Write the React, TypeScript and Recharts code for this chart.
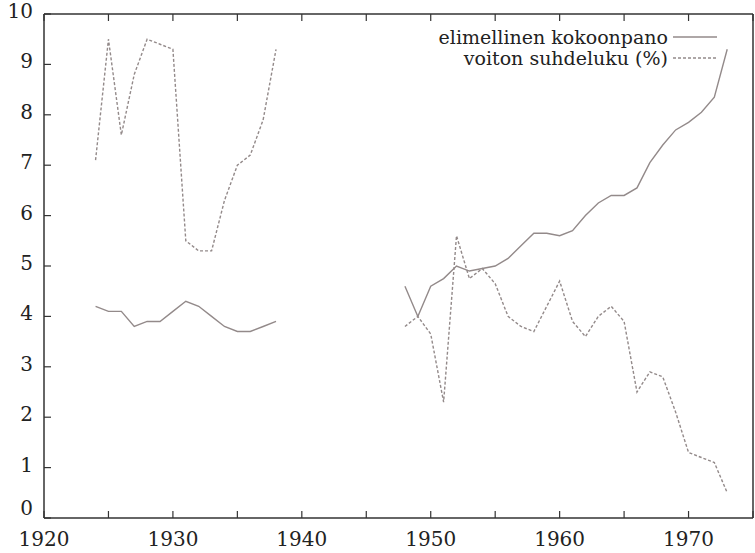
import React from 'react';
import { LineChart, Line, XAxis, YAxis, Legend } from 'recharts';

// vuodet ja arvot, luettu kuvasta
const yearsEarly = [1924, 1925, 1926, 1927, 1928, 1929, 1930, 1931, 1932, 1933, 1934, 1935, 1936, 1937, 1938];
const kokoonpanoEarly = [4.2, 4.1, 4.1, 3.8, 3.9, 3.9, 4.1, 4.3, 4.2, 4.0, 3.8, 3.7, 3.7, 3.8, 3.9];
const suhdelukuEarly = [7.1, 9.5, 7.6, 8.8, 9.5, 9.4, 9.3, 5.5, 5.3, 5.3, 6.3, 7.0, 7.2, 7.9, 9.3];

const yearsLate = [
  1948, 1949, 1950, 1951, 1952, 1953, 1954, 1955, 1956, 1957, 1958, 1959, 1960,
  1961, 1962, 1963, 1964, 1965, 1966, 1967, 1968, 1969, 1970, 1971, 1972, 1973,
];
const kokoonpanoLate = [
  4.6, 4.0, 4.6, 4.75, 5.0, 4.9, 4.95, 5.0, 5.15, 5.4, 5.65, 5.65, 5.6,
  5.7, 6.0, 6.25, 6.4, 6.4, 6.55, 7.05, 7.4, 7.7, 7.85, 8.05, 8.35, 9.3,
];
const suhdelukuLate = [
  3.8, 4.0, 3.65, 2.3, 5.6, 4.75, 4.95, 4.65, 4.0, 3.8, 3.7, 4.2, 4.7,
  3.9, 3.6, 4.0, 4.2, 3.9, 2.5, 2.9, 2.8, 2.1, 1.3, 1.2, 1.1, 0.5,
];

const xTicks = [1920, 1925, 1930, 1935, 1940, 1945, 1950, 1955, 1960, 1965, 1970, 1975];
const yTicks = [0, 1, 2, 3, 4, 5, 6, 7, 8, 9, 10];

const seriesNames = ['elimellinen kokoonpano', 'voiton suhdeluku (%)'];

// aukko 1939–1947: null katkaisee viivan
const gapYears = [1939, 1940, 1941, 1942, 1943, 1944, 1945, 1946, 1947];
const data = [
  ...yearsEarly.map((year, i) => ({ year, a: kokoonpanoEarly[i], b: suhdelukuEarly[i] })),
  ...gapYears.map((year) => ({ year, a: null, b: null })),
  ...yearsLate.map((year, i) => ({ year, a: kokoonpanoLate[i], b: suhdelukuLate[i] })),
];

const FONT = '"DejaVu Serif", serif';
const AXIS = '#333';
const LINE = '#938a8a';
const TICK = 7;

const BottomTick = ({ x, y, payload }: any) => {
  const v = payload.value;
  return (
    <g>
      <line x1={x} y1={y} x2={x} y2={y - TICK} stroke={AXIS} strokeWidth={1.2} />
      {v % 10 === 0 && v < 1975 && (
        <text x={x} y={y + 28} textAnchor="middle" fontFamily={FONT} fontSize={20} fill="#222">
          {v}
        </text>
      )}
    </g>
  );
};

const TopTick = ({ x, y }: any) => (
  <line x1={x} y1={y} x2={x} y2={y + TICK} stroke={AXIS} strokeWidth={1.2} />
);

// nolla nostettu ylemmäs, ettei osu vuosilukuihin
const LeftTick = ({ x, y, payload }: any) => (
  <g>
    <line x1={x} y1={y} x2={x + TICK} y2={y} stroke={AXIS} strokeWidth={1.2} />
    <text
      x={x - 11}
      y={y + (payload.value === 0 ? -3 : 4)}
      textAnchor="end"
      fontFamily={FONT}
      fontSize={20}
      fill="#222"
    >
      {payload.value}
    </text>
  </g>
);

const RightTick = ({ x, y }: any) => (
  <line x1={x} y1={y} x2={x - TICK} y2={y} stroke={AXIS} strokeWidth={1.2} />
);

const LegendBox = () => (
  <div style={{ fontFamily: FONT, fontSize: 19, color: '#222' }}>
    {seriesNames.map((name, i) => (
      <div
        key={name}
        style={{ display: 'flex', justifyContent: 'flex-end', alignItems: 'center', height: 20.5, paddingRight: 38 }}
      >
        <span style={{ lineHeight: '20px', fontFamily: FONT }}>{name}</span>
        <svg width={44} height={6} style={{ marginLeft: 5 }}>
          <line x1={0} y1={3} x2={44} y2={3} stroke={LINE} strokeWidth={1.3} strokeDasharray={i === 1 ? '3 2' : undefined} />
        </svg>
      </div>
    ))}
  </div>
);

export default function App() {
  return (
    <div style={{ position: 'absolute', left: 0, top: 0, background: '#fff' }}>
      <LineChart width={755} height={553} data={data} margin={{ top: 13, right: 0, bottom: 0, left: 0 }}>
        <XAxis
          xAxisId="b"
          dataKey="year"
          type="number"
          domain={[1920, 1975]}
          ticks={xTicks}
          allowDataOverflow
          height={35}
          tickSize={0}
          tickMargin={0}
          tickLine={false}
          axisLine={{ stroke: AXIS, strokeWidth: 1.5 }}
          tick={<BottomTick />}
          interval={0}
        />
        <XAxis
          xAxisId="t"
          orientation="top"
          dataKey="year"
          type="number"
          domain={[1920, 1975]}
          ticks={xTicks}
          allowDataOverflow
          height={1}
          tickSize={0}
          tickMargin={0}
          tickLine={false}
          axisLine={{ stroke: AXIS, strokeWidth: 1.5 }}
          tick={<TopTick />}
          interval={0}
        />
        <YAxis
          yAxisId="l"
          type="number"
          domain={[0, 10]}
          ticks={yTicks}
          width={44}
          tickSize={0}
          tickMargin={0}
          tickLine={false}
          axisLine={{ stroke: AXIS, strokeWidth: 1.5 }}
          tick={<LeftTick />}
          interval={0}
        />
        <YAxis
          yAxisId="r"
          orientation="right"
          type="number"
          domain={[0, 10]}
          ticks={yTicks}
          width={2}
          tickSize={0}
          tickMargin={0}
          tickLine={false}
          axisLine={{ stroke: AXIS, strokeWidth: 1.5 }}
          tick={<RightTick />}
          interval={0}
        />
        <Legend
          layout="horizontal"
          verticalAlign="middle"
          align="center"
          content={<LegendBox />}
          wrapperStyle={{ top: 27, left: 0, width: 755, height: 42 }}
        />
        <Line
          xAxisId="b"
          yAxisId="l"
          dataKey="a"
          name={seriesNames[0]}
          stroke={LINE}
          strokeWidth={1.4}
          dot={false}
          isAnimationActive={false}
        />
        <Line
          xAxisId="b"
          yAxisId="l"
          dataKey="b"
          name={seriesNames[1]}
          stroke={LINE}
          strokeWidth={1.4}
          strokeDasharray="3 2"
          dot={false}
          isAnimationActive={false}
        />
      </LineChart>
    </div>
  );
}
